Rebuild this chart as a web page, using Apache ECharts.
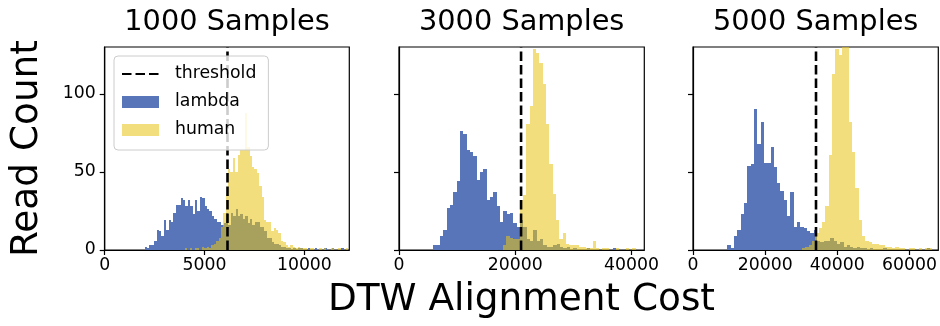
<!DOCTYPE html>
<html>
<head>
<meta charset="utf-8">
<script src="https://cdn.jsdelivr.net/npm/echarts@6/dist/echarts.min.js"></script>
<style>
  html, body { margin: 0; padding: 0; background: #ffffff; }
  #chart { width: 940px; height: 326px; }
</style>
</head>
<body>
<div id="chart"></div>
<script>
// ---- data ----
const panelTitles = ['1000 Samples', '3000 Samples', '5000 Samples'];
const thresholds = [6150, 21000, 34100];
const xMaxima = [12250, 42200, 68000];
const xTickValues = [[0, 5000, 10000], [0, 20000, 40000], [0, 20000, 40000, 60000]];
const yTickValues = [0, 50, 100];
const yMaximum = 130;

// histogram bins: first bin edge, bin width, counts per bin
const lambdaStart = [2000, 5900, 9530];
const lambdaWidth = [120, 573, 920];
const lambdaCounts1000 = [2,1,3,3,6,13,12,9,19,13,19,18,24,29,29,33,32,28,32,28,23,32,25,34,33,28,26,25,22,20,
  18,18,16,17,24,16,24,22,26,22,23,20,22,17,20,16,18,18,15,15,12,8,8,5,4,4,3,2,2,
  1,1,0,1,0,1,1,0,0,1,0,0,1,0,0,0,1,0,0,1,0,0,0,1];
const lambdaCounts3000 = [3,3,9,13,27,29,37,44,76,74,64,63,60,45,50,52,32,34,37,28,18,25,23,24,17,15,19,15,7,6,
  13,6,7,3,2,2,3,4,2,1,2,0,1,0,0,0,1,0,0,0,0,0,0,0,1];
const lambdaCounts5000 = [3,1,9,13,23,30,54,55,90,68,82,56,56,66,53,43,38,32,22,37,15,18,15,14,12,11,13,6,5,6,
  6,8,6,4,5,2,3,2,1,2,1,1,0,1,0,0,0,1,0,0,0,0,0,0,0,0,0,0,0,0,1];

const humanStart = [4020, 17900, 30200];
const humanWidth = [120, 570, 925];
const humanCounts1000 = [1,0,1,0,1,1,0,2,1,2,1,3,4,6,8,15,24,36,52,50,59,50,61,64,64,88,66,60,53,52,
  49,41,34,19,18,18,12,14,13,11,6,5,3,2,3,2,1,2,1,1,
  1,0,1,1,0,0,1,0,1,0,0,1,0,0,1,0,0,1];
const humanCounts3000 = [3,9,8,7,7,32,35,81,92,129,126,120,106,81,55,36,19,7,11,4,3,3,3,2,2,1,1,6,1,0,
  1,1,0,0,1,0,0,1,0,1];
const humanCounts5000 = [1,2,3,6,11,14,18,28,61,113,129,125,130,130,82,63,40,19,9,6,5,4,4,3,3,2,2,1,2,1,
  1,0,1,1,0,1,0,1,1];

const lambdaCounts = [lambdaCounts1000, lambdaCounts3000, lambdaCounts5000];
const humanCounts = [humanCounts1000, humanCounts3000, humanCounts5000];

// ---- styling ----
const FONT = 'DejaVu Sans';
const INK = '#000000';
const LAMBDA_COLOR = 'rgb(88,117,185)';
const HUMAN_COLOR = 'rgba(232,197,24,0.56)';

const grids = [
  { left: 104.7, top: 47, width: 244.6, height: 203 },
  { left: 399, top: 47, width: 245.3, height: 203 },
  { left: 693, top: 47, width: 245.3, height: 203 }
];

function toBins(start, width, counts) {
  return counts.map((n, i) => [start + i * width, start + (i + 1) * width, n]);
}

// one rectangle per bin, edges snapped to whole pixels so neighbouring bins join without seams
function histRender(color) {
  return function (params, api) {
    const n = api.value(2);
    if (!n) return null;
    const topLeft = api.coord([api.value(0), n]);
    const bottomRight = api.coord([api.value(1), 0]);
    const x0 = Math.round(topLeft[0]), x1 = Math.round(bottomRight[0]);
    const y0 = Math.round(topLeft[1]), y1 = bottomRight[1];
    const cs = params.coordSys;
    const rect = echarts.graphic.clipRectByRect(
      { x: x0, y: y0, width: x1 - x0, height: y1 - y0 },
      { x: cs.x, y: cs.y, width: cs.width, height: cs.height }
    );
    if (!rect || rect.width <= 0) return null;
    return { type: 'rect', shape: rect, style: { fill: color } };
  };
}

const axisLineStyle = { color: INK, width: 1.2 };
const plainNumber = v => String(v);

const xAxes = grids.map((g, p) => ({
  type: 'value', gridIndex: p, min: 0, max: xMaxima[p], z: 10,
  splitLine: { show: false },
  axisLine: { show: true, onZero: false, lineStyle: axisLineStyle },
  axisTick: { show: true, inside: false, length: 5, customValues: xTickValues[p], lineStyle: axisLineStyle },
  axisLabel: { customValues: xTickValues[p], formatter: plainNumber, fontFamily: FONT, fontSize: 17.3, color: INK, margin: 7 }
}));

const yAxes = grids.map((g, p) => ({
  type: 'value', gridIndex: p, min: 0, max: yMaximum, z: 10,
  splitLine: { show: false },
  axisLine: { show: true, onZero: false, lineStyle: axisLineStyle },
  axisTick: { show: true, inside: false, length: 5, customValues: yTickValues, lineStyle: axisLineStyle },
  axisLabel: { show: p === 0, customValues: yTickValues, formatter: plainNumber, fontFamily: FONT, fontSize: 17.3, color: INK, margin: 9 }
}));

const series = [];
grids.forEach((g, p) => {
  series.push({
    name: 'lambda', type: 'custom', xAxisIndex: p, yAxisIndex: p, z: 2,
    itemStyle: { color: LAMBDA_COLOR },
    encode: { x: [0, 1], y: 2 },
    renderItem: histRender(LAMBDA_COLOR),
    data: toBins(lambdaStart[p], lambdaWidth[p], lambdaCounts[p])
  });
  series.push({
    name: 'human', type: 'custom', xAxisIndex: p, yAxisIndex: p, z: 2,
    itemStyle: { color: HUMAN_COLOR },
    encode: { x: [0, 1], y: 2 },
    renderItem: histRender(HUMAN_COLOR),
    data: toBins(humanStart[p], humanWidth[p], humanCounts[p])
  });
  series.push({
    name: 'threshold', type: 'line', xAxisIndex: p, yAxisIndex: p, z: 3,
    symbol: 'none', silent: true,
    lineStyle: { color: INK, width: 2.6, type: [9.5, 4] },
    itemStyle: { color: INK },
    data: [[thresholds[p], 0], [thresholds[p], yMaximum]]
  });
});

const graphics = panelTitles.map((t, p) => ({
  type: 'text',
  x: grids[p].left + grids[p].width / 2,
  y: 23,
  style: { text: t, font: '28.8px "' + FONT + '"', fill: INK, textAlign: 'center', textVerticalAlign: 'middle' }
}));
graphics.push({
  type: 'text', x: 521.5, y: 300,
  style: { text: 'DTW Alignment Cost', font: '37.4px "' + FONT + '"', fill: INK, textAlign: 'center', textVerticalAlign: 'middle' }
});
graphics.push({
  type: 'text', x: 27, y: 148.5, rotation: Math.PI / 2,
  style: { text: 'Read Count', font: '37.4px "' + FONT + '"', fill: INK, textAlign: 'center', textVerticalAlign: 'middle' }
});

const option = {
  animation: false,
  backgroundColor: '#ffffff',
  grid: grids.map(g => Object.assign({ show: true, borderColor: INK, borderWidth: 1.2, backgroundColor: 'transparent', containLabel: false }, g)),
  xAxis: xAxes,
  yAxis: yAxes,
  legend: {
    orient: 'vertical', left: 114, top: 56, selectedMode: false,
    data: [
      { name: 'threshold', itemStyle: { opacity: 0 } },
      { name: 'lambda', icon: 'rect' },
      { name: 'human', icon: 'rect' }
    ],
    itemWidth: 37, itemHeight: 12, itemGap: 8,
    padding: [8, 12, 10, 7],
    backgroundColor: 'rgba(255,255,255,0.8)',
    borderColor: '#cccccc', borderWidth: 1, borderRadius: 4,
    textStyle: { fontFamily: FONT, fontSize: 17.3, color: INK, lineHeight: 20, padding: [0, 0, 0, 11] }
  },
  graphic: graphics,
  series: series
};

const chart = echarts.init(document.getElementById('chart'), null, { renderer: 'canvas' });
chart.setOption(option);
</script>
</body>
</html>
